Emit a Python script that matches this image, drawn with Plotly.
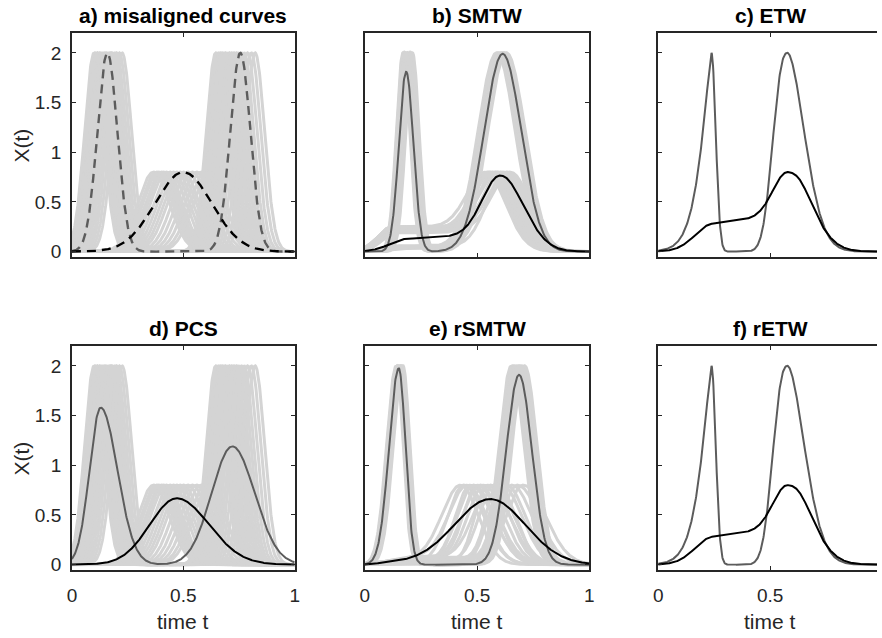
import numpy as np
import plotly.graph_objects as go

W, H = 882, 638
t = np.linspace(0, 1, 601)

# ---------------- data ----------------
# observed (misaligned) curves, shown in a) and d)
obs_peak1_pos = [0.100, 0.106, 0.112, 0.118, 0.124, 0.131, 0.138, 0.145, 0.151, 0.158,
                 0.165, 0.172, 0.180, 0.190, 0.200, 0.212, 0.225]
obs_peak2_pos = [0.646, 0.655, 0.664, 0.672, 0.680, 0.689, 0.698, 0.708, 0.718, 0.728,
                 0.738, 0.749, 0.760, 0.773, 0.788, 0.805, 0.822]
obs_bump_pos = [0.367, 0.380, 0.391, 0.402, 0.413, 0.425, 0.440, 0.455, 0.470, 0.485,
                0.500, 0.520, 0.540, 0.560, 0.580, 0.600, 0.617]
obs_peak_height, obs_peak_sd = 2.0, 0.043
obs_bump_height, obs_bump_sd = 0.8, 0.072

# true templates (dashed) in a)
true1_pos = [0.159, 0.756]
true1_height, true1_sd = 2.0, 0.045
true2_pos, true2_height, true2_sd = 0.5, 0.8, 0.128

# b) SMTW aligned curves
b_peak1_pos = [0.170, 0.173, 0.177, 0.180, 0.184, 0.188, 0.192, 0.196, 0.200, 0.205, 0.212]
b_peak1_sd = 0.030
b_peak2_pos = [0.587, 0.592, 0.597, 0.601, 0.606, 0.610, 0.614, 0.618, 0.622, 0.626, 0.631]
b_peak2_sd = 0.083
b_bump_pos = [0.536, 0.545, 0.553, 0.560, 0.568, 0.575, 0.583, 0.590, 0.598, 0.606,
              0.615, 0.625, 0.635, 0.646]
b_bump_shelf = [0.25, 0.04, 0.22, 0.20, 0.24, 0.06, 0.21, 0.23, 0.03, 0.19, 0.22, 0.05, 0.25, 0.21]
b_bump_shelf_start = [0.12, 0.15, 0.11, 0.14, 0.13, 0.16, 0.12, 0.14, 0.17, 0.13, 0.11, 0.15, 0.12, 0.14]
b_bump_sd_left, b_bump_sd_right = 0.080, 0.090
# b) estimated templates
b_mean1 = [(0.184, 1.81, 0.032, 0.032), (0.614, 1.99, 0.083, 0.083)]
b_mean2_peak = (0.602, 0.765, 0.078, 0.104)
b_mean2_shelf = (0.19, 0.08, 0.602, 0.03, 0.13, 0.10)

# c) ETW / f) rETW estimated templates
c_mean1 = [(0.238, 2.0, 0.038, 0.019, 1.3, 2.0), (0.578, 2.0, 0.062, 0.074, 2.5, 1.8)]
c_mean2_peak = (0.578, 0.80, 0.063, 0.103)
c_mean2_shelf = (0.24, 0.08, 0.578, 0.05, 0.28, 0.28)

# d) PCS estimated templates
d_mean1 = [(0.129, 1.58, 0.050, 0.075), (0.720, 1.19, 0.093, 0.100)]
d_mean2 = [(0.470, 0.667, 0.120, 0.145)]

# e) rSMTW aligned curves
e_peak1_pos = [0.140, 0.143, 0.146, 0.149, 0.152, 0.155, 0.158, 0.161, 0.164, 0.167, 0.170]
e_peak1_sd_left, e_peak1_sd_right = 0.043, 0.030
e_peak2_pos = [0.653, 0.660, 0.665, 0.670, 0.676, 0.682, 0.688, 0.694, 0.700, 0.706, 0.712, 0.720]
e_peak2_sd = 0.055
e_bump_pos = [0.426, 0.440, 0.455, 0.470, 0.485, 0.500, 0.515, 0.530, 0.545, 0.560,
              0.575, 0.590, 0.610, 0.630, 0.655, 0.680, 0.705]
e_bump_sd_left = [0.082, 0.070, 0.080, 0.065, 0.075, 0.060, 0.080, 0.070, 0.055, 0.075,
                  0.065, 0.050, 0.060, 0.055, 0.065, 0.070, 0.075]
e_bump_sd_right = [0.080, 0.090, 0.085, 0.100, 0.090, 0.095, 0.080, 0.090, 0.100, 0.085,
                   0.090, 0.080, 0.090, 0.085, 0.090, 0.095, 0.100]
e_bump_shelf = [0.06, 0.02, 0.08, 0.04, 0.00, 0.07, 0.03, 0.05, 0.02, 0.08,
                0.04, 0.06, 0.01, 0.05, 0.03, 0.07, 0.02]
e_mean1 = [(0.151, 1.975, 0.043, 0.030), (0.687, 1.91, 0.057, 0.057)]
e_mean2_peak = (0.558, 0.66, 0.157, 0.157)
e_mean2_shelf = (0.12, 0.05, 0.40, 0.10, 0.02, 0.0)

titles = ["a) misaligned curves", "b) SMTW", "c) ETW", "d) PCS", "e) rSMTW", "f) rETW"]
x_ticks = [0, 0.5, 1]
x_tick_text = ["0", "0.5", "1"]
y_ticks = [0, 0.5, 1, 1.5, 2]
y_tick_text = ["0", "0.5", "1", "1.5", "2"]


# ---------------- curve builders ----------------
def peak(c, h, sl, sr, ql=2.0, qr=2.0):
    d = t - c
    s = np.where(d < 0, sl, sr)
    q = np.where(d < 0, ql, qr)
    return h * np.exp(-0.5 * (np.abs(d) / s) ** q)


def shelf(a, wa, b, wb, hs, k=0.0):
    L = np.where(t < a, np.exp(-0.5 * ((a - t) / wa) ** 2), 1.0)
    R = np.where(t > b, np.exp(-0.5 * ((t - b) / wb) ** 2), 1.0)
    return np.clip(hs + k * (t - a), 0, None) * L * R


def curve(peaks, sh=None):
    P = sum(peak(*p) for p in peaks)
    if sh is None:
        return P
    Hm = max(p[1] for p in peaks)
    return P + shelf(*sh) * np.clip(1 - P / Hm, 0, 1)


def join(curves):
    xs, ys = [], []
    for y in curves:
        xs += list(t) + [None]
        ys += list(y) + [None]
    return xs, ys


GRAY = "#d4d4d4"
DARK = "#5c5c5c"
BLACK = "#000000"
AX = "#262626"

fig = go.Figure()


def add(curves, n, color, width, dash=None):
    xs, ys = join(curves)
    fig.add_trace(go.Scatter(x=xs, y=ys, mode="lines", xaxis="x" + ("" if n == 1 else str(n)),
                             yaxis="y" + ("" if n == 1 else str(n)),
                             line=dict(color=color, width=width, dash=dash),
                             hoverinfo="skip", showlegend=False))


obs1 = [curve([(p1, obs_peak_height, obs_peak_sd, obs_peak_sd), (p2, obs_peak_height, obs_peak_sd, obs_peak_sd)])
        for p1, p2 in zip(obs_peak1_pos, obs_peak2_pos)]
obs2 = [curve([(m, obs_bump_height, obs_bump_sd, obs_bump_sd)]) for m in obs_bump_pos]

# a)
add(obs1 + obs2, 1, GRAY, 3)
add([curve([(p, true1_height, true1_sd, true1_sd) for p in true1_pos])], 1, DARK, 2.4, "9px,6px")
add([curve([(true2_pos, true2_height, true2_sd, true2_sd)])], 1, BLACK, 2.4, "9px,6px")

# b)
b1 = [curve([(p1, 2.0, b_peak1_sd, b_peak1_sd), (p2, 2.0, b_peak2_sd, b_peak2_sd)])
      for p1, p2 in zip(b_peak1_pos, b_peak2_pos)]
b2 = [curve([(m, 0.8, b_bump_sd_left, b_bump_sd_right)], (a, 0.06, m, 0.03, s, 0.0))
      for m, s, a in zip(b_bump_pos, b_bump_shelf, b_bump_shelf_start)]
add(b1 + b2, 2, GRAY, 3)
add([curve(b_mean1)], 2, DARK, 2)
add([curve([b_mean2_peak], b_mean2_shelf)], 2, BLACK, 2)

# c)
add([curve(c_mean1)], 3, DARK, 2)
add([curve([c_mean2_peak], c_mean2_shelf)], 3, BLACK, 2)

# d)
add(obs1 + obs2, 4, GRAY, 3)
add([curve(d_mean1)], 4, DARK, 2)
add([curve(d_mean2)], 4, BLACK, 2)

# e)
e1 = [curve([(p1, 2.0, e_peak1_sd_left, e_peak1_sd_right), (p2, 2.0, e_peak2_sd, e_peak2_sd)])
      for p1, p2 in zip(e_peak1_pos, e_peak2_pos)]
e2 = [curve([(m, 0.8, sl, sr)], (0.25, 0.12, m, 0.05, s, 0.0))
      for m, sl, sr, s in zip(e_bump_pos, e_bump_sd_left, e_bump_sd_right, e_bump_shelf)]
add(e1 + e2, 5, GRAY, 3)
add([curve(e_mean1)], 5, DARK, 2)
add([curve([e_mean2_peak], e_mean2_shelf)], 5, BLACK, 2)

# f)
add([curve(c_mean1)], 6, DARK, 2)
add([curve([c_mean2_peak], c_mean2_shelf)], 6, BLACK, 2)

# ---------------- layout ----------------
cols_px = [(67.7, 293.0), (364.0, 591.0), (660.7, 887.0)]
rows_px = [(33.3, 259.0), (349.3, 575.0)]
FONT = "Liberation Sans, Arial, Helvetica, sans-serif"
TICKFONT = dict(family=FONT, size=19, color=AX)
LABFONT = dict(family=FONT, size=21, color=AX)

layout = dict(width=W, height=H, margin=dict(l=0, r=0, t=0, b=0),
              paper_bgcolor="white", plot_bgcolor="white", showlegend=False)
annotations = []
n = 0
for r, (ytop, ybot) in enumerate(rows_px):
    for c, (xl, xr) in enumerate(cols_px):
        n += 1
        suf = "" if n == 1 else str(n)
        right_px = min(xr, W)
        xdom = [xl / W, right_px / W]
        xmax = (right_px - xl) / (xr - xl)
        ydom = [1 - ybot / H, 1 - ytop / H]
        layout["xaxis" + suf] = dict(domain=xdom, range=[0, xmax], anchor="y" + suf,
                                     showline=True, linecolor=AX, linewidth=1.8, mirror="ticks",
                                     ticks="inside", ticklen=4, tickwidth=1.4, tickcolor=AX,
                                     tickvals=x_ticks, ticktext=x_tick_text,
                                     showticklabels=(r == 1), tickfont=TICKFONT,
                                     ticklabelstandoff=8,
                                     showgrid=False, zeroline=False, fixedrange=True)
        layout["yaxis" + suf] = dict(domain=ydom, range=[-0.05, 2.2], anchor="x" + suf,
                                     showline=True, linecolor=AX, linewidth=1.8,
                                     mirror=("ticks" if c < 2 else False),
                                     ticks="inside", ticklen=4, tickwidth=1.4, tickcolor=AX,
                                     tickvals=y_ticks, ticktext=y_tick_text,
                                     showticklabels=(c == 0), tickfont=TICKFONT,
                                     ticklabelstandoff=5,
                                     showgrid=False, zeroline=False, fixedrange=True)
        xc = (xl + xr) / 2
        annotations.append(dict(text="<b>" + titles[n - 1] + "</b>", x=xc / W, y=1 - (ytop - 17.5) / H,
                                xref="paper", yref="paper", xanchor="center", yanchor="middle",
                                showarrow=False, font=dict(family=FONT, size=21, color="#000000")))
        if c == 0:
            annotations.append(dict(text="X(t)", x=17 / W, y=1 - ((ytop + ybot) / 2 + 1) / H,
                                    xref="paper", yref="paper", xanchor="center", yanchor="middle",
                                    textangle=-90, showarrow=False, font=LABFONT))
        if r == 1:
            annotations.append(dict(text="time t", x=xc / W, y=1 - 627 / H,
                                    xref="paper", yref="paper", xanchor="center", yanchor="middle",
                                    showarrow=False, font=LABFONT))
layout["annotations"] = annotations
fig.update_layout(**layout)
fig.write_html("out.html")
